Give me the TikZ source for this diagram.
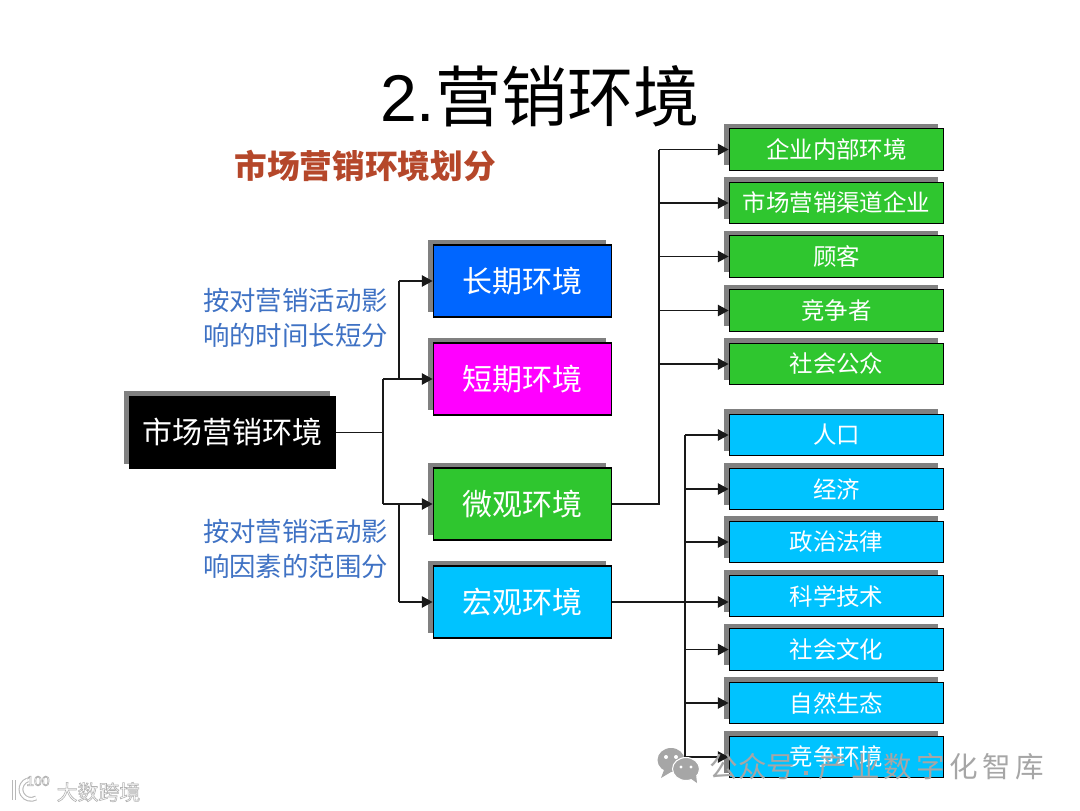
\documentclass[tikz,border=0pt]{standalone}
\usepackage{fontspec}
\setmainfont{Liberation Sans}
\newfontfamily\cjk{Noto Sans CJK SC}
\usetikzlibrary{arrows.meta,shadows}
\definecolor{boxgreen}{HTML}{2FC62F}
\definecolor{boxcyan}{HTML}{00C3FF}
\definecolor{boxblue}{HTML}{0066FF}
\definecolor{boxpink}{HTML}{FF00FF}
\definecolor{labelblue}{HTML}{3F72C4}
\definecolor{heading}{HTML}{B5472A}
\definecolor{wm}{HTML}{A6A6A6}
\newcommand{\outlinetext}[1]{\special{pdf:code 2 Tr 0.45 w 0.7 G 1 g}#1\special{pdf:code 0 Tr 0 G 0 g}}
\tikzset{
  x=0.75pt,y=-0.75pt,
  boxbase/.style={rectangle,draw=black,line width=0.9pt,text=white,inner sep=0pt,align=center,
    general shadow={fill=gray,shadow xshift=-4.2pt,shadow yshift=3.8pt}},
  midbox/.style={boxbase,minimum width=134pt,minimum height=54pt,font=\cjk\fontsize{22.5}{26}\selectfont},
  rowbox/.style={boxbase,minimum width=161pt,minimum height=31pt,font=\cjk\fontsize{17.6}{20}\selectfont},
  conn/.style={line width=0.95pt,draw=black!90,-{Triangle[length=8pt,width=8.5pt]}},
  wire/.style={line width=0.95pt,draw=black!90},
  note/.style={text=labelblue,align=left,inner sep=0pt,font=\cjk\fontsize{19.8}{26.5}\selectfont},
  wmark/.style={text=wm,inner sep=0pt,font=\cjk\fontsize{21.4}{24}\selectfont},
  logotext/.style={inner sep=0pt,font=\cjk\fontsize{15.7}{18}\selectfont}
}
\begin{document}
\begin{tikzpicture}
\useasboundingbox (0,0) rectangle (1080,810);
\fill[white] (0,0) rectangle (1080,810);
\node[inner sep=0pt,text=black] (title) at (540,96) {\fontsize{49.6}{54}\selectfont 2.{\cjk 营销环境}};
\node[inner sep=0pt,text=heading,font=\cjk\bfseries\fontsize{24.5}{28}\selectfont] (head) at (365,166) {市场营销环境划分};
\node[note] (n1) at (295.5,318) {按对营销活动影\\响的时间长短分};
\node[note] (n2) at (295.5,549) {按对营销活动影\\响因素的范围分};

\node[boxbase,fill=black,minimum width=155pt,minimum height=54.5pt,font=\cjk\fontsize{22.5}{26}\selectfont] (main) at (232.5,432.5) {市场营销环境};
\node[midbox,fill=boxblue] (long) at (522.5,281) {长期环境};
\node[midbox,fill=boxpink] (short) at (522.5,379) {短期环境};
\node[midbox,fill=boxgreen] (micro) at (522.5,504) {微观环境};
\node[midbox,fill=boxcyan] (macro) at (522.5,602) {宏观环境};

\node[rowbox,fill=boxgreen] (g1) at (836.5,149.5) {企业内部环境};
\node[rowbox,fill=boxgreen] (g2) at (836.5,203) {市场营销渠道企业};
\node[rowbox,fill=boxgreen] (g3) at (836.5,256.5) {顾客};
\node[rowbox,fill=boxgreen] (g4) at (836.5,310.5) {竞争者};
\node[rowbox,fill=boxgreen] (g5) at (836.5,364) {社会公众};
\node[rowbox,fill=boxcyan] (c1) at (836.5,435) {人口};
\node[rowbox,fill=boxcyan] (c2) at (836.5,489) {经济};
\node[rowbox,fill=boxcyan] (c3) at (836.5,542) {政治法律};
\node[rowbox,fill=boxcyan] (c4) at (836.5,596) {科学技术};
\node[rowbox,fill=boxcyan] (c5) at (836.5,649.5) {社会文化};
\node[rowbox,fill=boxcyan] (c6) at (836.5,703) {自然生态};
\node[rowbox,fill=boxcyan] (c7) at (836.5,757) {竞争环境};

\coordinate (busa) at (383,432.5);
\coordinate (busb) at (399,432.5);
\coordinate (busc) at (659,504);
\coordinate (busd) at (685,602);

\draw[wire] (main.east) -- (busa);
\draw[wire] (busa |- short.west) -- (busa |- micro.west);
\draw[wire] (busb |- long.west) -- (busb |- short.west);
\draw[wire] (busb |- micro.west) -- (busb |- macro.west);
\draw[conn] (busb |- long.west) -- (long.west);
\draw[conn] (busa |- short.west) -- (short.west);
\draw[conn] (busa |- micro.west) -- (micro.west);
\draw[conn] (busb |- macro.west) -- (macro.west);

\draw[wire] (micro.east) -- (busc) -- (busc |- g1.west);
\foreach \n in {g1,g2,g3,g4,g5} \draw[conn] (busc |- \n.west) -- (\n.west);

\draw[wire] (busd |- c1.west) -- (busd |- c7.west);
\draw[conn] (macro.east) -- (c4.west |- macro.east);
\foreach \n in {c1,c2,c3,c5,c6,c7} \draw[conn] (busd |- \n.west) -- (\n.west);

% watermarks
\fill[wm] (671,760) ellipse [x radius=13.5,y radius=12];
\fill[wm] (664,770) -- (661,778) -- (671,772) -- cycle;
\fill[wm,draw=white,line width=0.8pt] (686,769) ellipse [x radius=13.5,y radius=11.5];
\fill[wm] (690,778) -- (697,783) -- (696,774) -- cycle;
\fill[white] (666,757) circle (2) (676,757) circle (2) (681,767) circle (1.7) (691,767) circle (1.7);
\node[wmark] (wa) at (752.5,767) {公众号};
\node[wmark,fill=wm,minimum size=2.6pt,inner sep=0pt] (wdot) at (806,773) {};
\node[wmark] (wb) at (931,767) {产\hspace{3.2pt}业\hspace{3.2pt}数\hspace{3.2pt}字\hspace{3.2pt}化\hspace{3.2pt}智\hspace{3.2pt}库};

\node[logotext] (logoa) at (98.5,792) {\outlinetext{大数跨境}};
\node[inner sep=0pt,font=\fontsize{10.5}{12}\selectfont] (logob) at (38,781) {\outlinetext{100}};
\draw[black!28,line width=3.6pt] (14,780) -- (14,800);
\draw[black!28,line width=3.6pt] (36,798) arc[start angle=60,end angle=250,radius=10];
\draw[white,line width=2pt] (14,780) -- (14,800);
\draw[white,line width=2pt] (36,798) arc[start angle=60,end angle=250,radius=10];
\end{tikzpicture}
\end{document}
